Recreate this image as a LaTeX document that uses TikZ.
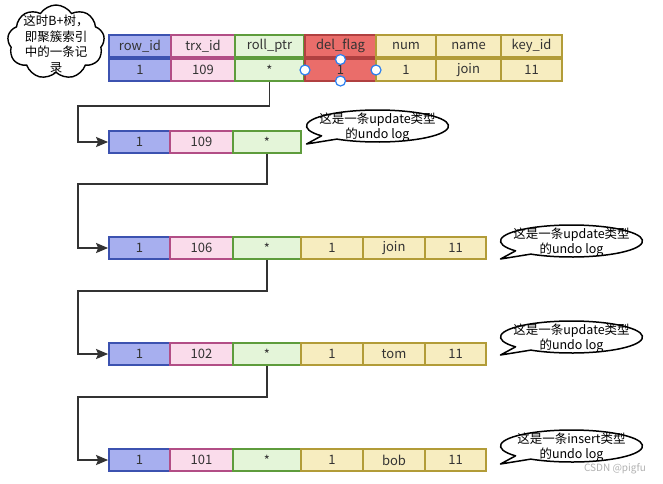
\documentclass[tikz,border=0pt]{standalone}
\usepackage{fontspec}
\setmainfont{Noto Sans CJK SC}
\usetikzlibrary{arrows.meta,shapes.symbols}

\definecolor{idfill}{HTML}{A7AFEF}
\definecolor{iddraw}{HTML}{3C52B0}
\definecolor{trxfill}{HTML}{FADCEB}
\definecolor{trxdraw}{HTML}{B24E86}
\definecolor{ptrfill}{HTML}{E4F5D9}
\definecolor{ptrdraw}{HTML}{5E9C3C}
\definecolor{delfill}{HTML}{EA6D6A}
\definecolor{deldraw}{HTML}{B04040}
\definecolor{colfill}{HTML}{F7EDC0}
\definecolor{coldraw}{HTML}{B29C38}
\definecolor{inkgray}{HTML}{333333}
\definecolor{handleblue}{HTML}{2A7FF0}

\tikzset{
    cell/.style={draw, line width=1.8pt, inner sep=0pt, minimum height=22pt,
        text=inkgray, font=\fontsize{13}{14}\selectfont},
    id cell/.style={cell, fill=idfill, draw=iddraw, minimum width=#1},
    trx cell/.style={cell, fill=trxfill, draw=trxdraw, minimum width=#1},
    ptr cell/.style={cell, fill=ptrfill, draw=ptrdraw, minimum width=#1},
    del cell/.style={cell, fill=delfill, draw=deldraw, minimum width=#1},
    col cell/.style={cell, fill=colfill, draw=coldraw, minimum width=#1},
    ptr link/.style={-{Stealth[length=12pt, width=10pt, inset=2pt]}, line width=1.6pt, draw=inkgray},
    bubble/.style={draw=black, fill=white, line width=1.5pt, line join=round},
    bubble text/.style={align=center, text=black, font=\fontsize{12.5}{14.5}\selectfont},
    note cloud/.style={cloud, draw=black, fill=white, line width=1.4pt, cloud puffs=9,
        cloud puff arc=115, cloud ignores aspect, minimum width=97pt, minimum height=74pt,
        inner sep=0pt},
    sel handle/.style={draw=handleblue, fill=white, line width=1.2pt},
}
\newcommand{\undobubble}[3]{
    \draw[bubble, shift={#1}] (-71,18) -- (142:71 and 16)
        arc[start angle=142, end angle=485, x radius=71, y radius=16] -- cycle;
    \node[bubble text, yshift=-1.5pt] (#2) at #1 {#3};
}

\begin{document}
\begin{tikzpicture}[x=1pt, y=-1pt]
    \path[use as bounding box, fill=white] (0,0) rectangle (663,483);

    % note on the current record
    \node[note cloud] (note) at (56,42) {};
    \node[align=center, text=black, font=\fontsize{12.5}{15.5}\selectfont] (notetext) at (56,44)
        {这时B+树，\\即聚簇索引\\中的一条记\\录};

    % current record in the clustered index
    \node[id cell=62pt] (hid) at (140,46) {row\_id};
    \node[trx cell=64pt] (htrx) at (203,46) {trx\_id};
    \node[ptr cell=69pt] (hptr) at (269.5,46) {roll\_ptr};
    \node[del cell=71pt] (hdel) at (340.5,46) {del\_flag};
    \node[col cell=60pt] (hnum) at (406,46) {num};
    \node[col cell=65pt] (hname) at (468.5,46) {name};
    \node[col cell=61pt] (hkey) at (531.5,46) {key\_id};

    \node[id cell=62pt] (r0-1) at (140,70) {1};
    \node[trx cell=64pt] (r0-2) at (203,70) {109};
    \node[ptr cell=69pt] (r0-3) at (269.5,70) {*};
    \node[del cell=71pt] (r0-4) at (340.5,70) {1};
    \node[col cell=60pt] (r0-5) at (406,70) {1};
    \node[col cell=65pt] (r0-6) at (468.5,70) {join};
    \node[col cell=61pt] (r0-7) at (531.5,70) {11};

    % selection handles on del_flag
    \foreach \p in {(305,70), (376,70), (340.5,59.5), (340.5,81)} {
        \draw[sel handle] \p circle[radius=5pt];
    }

    % undo log chain
    \foreach \k/\y/\trx in {1/142/109, 2/248/106, 3/354/102, 4/460/101} {
        \node[id cell=61pt] (r\k-1) at (139.5,\y) {1};
        \node[trx cell=63pt] (r\k-2) at (201.5,\y) {\trx};
        \node[ptr cell=68pt] (r\k-3) at (267,\y) {*};
    }
    \foreach \k/\y/\val in {2/248/join, 3/354/tom, 4/460/bob} {
        \node[col cell=62pt] (r\k-4) at (332,\y) {1};
        \node[col cell=62pt] (r\k-5) at (394,\y) {\val};
        \node[col cell=61pt] (r\k-6) at (455.5,\y) {11};
    }

    % roll pointers
    \coordinate (bend0) at (78,106);
    \coordinate (bend1) at (78,184);
    \coordinate (bend2) at (78,291);
    \coordinate (bend3) at (78,397);
    \foreach \k [evaluate=\k as \n using int(\k+1)] in {0,1,2,3} {
        \draw[ptr link] (r\k-3.south) |- (bend\k) |- (r\n-1.west);
    }

    % callouts
    \undobubble{(377.5,126)}{log1}{这是一条update类型\\的undo log}
    \undobubble{(571.5,241)}{log2}{这是一条update类型\\的undo log}
    \undobubble{(571.5,337)}{log3}{这是一条update类型\\的undo log}
    \undobubble{(571.5,446)}{log4}{这是一条insert类型\\的undo log}

    \node[text=gray!60, font=\fontsize{10}{12}\selectfont] (mark) at (615,469) {CSDN @pigfu};
\end{tikzpicture}
\end{document}
